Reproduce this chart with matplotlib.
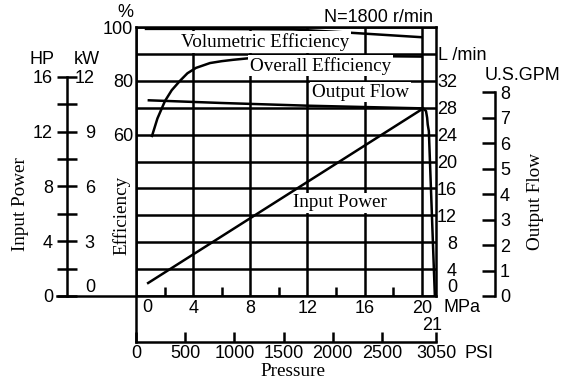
import matplotlib
matplotlib.use("Agg")
import matplotlib.pyplot as plt

plt.rcParams["font.family"] = "Liberation Sans"
plt.rcParams["font.size"] = 13
SERIF = "Liberation Serif"
SERIF_SIZE = 13.8
LW = 1.8

# curves, pressure in MPa
vol_pressure = [0.7, 4, 8, 11, 14, 17, 20]
vol_eff = [99.3, 99.3, 99.2, 99.1, 98.2, 97.2, 96.2]

overall_pressure = [1.12, 1.5, 2.03, 2.5, 3.08, 3.6, 4.2, 5.18, 6.0, 6.79, 8.12, 10, 12, 16, 20]
overall_eff = [59.5, 66, 72.5, 76.5, 80, 82.8, 84.8, 86.6, 87.3, 87.8, 88.5, 89, 89.2, 89.2, 89]

flow_pressure = [0.9, 6, 12, 18, 20.1, 20.3, 20.38, 20.42, 20.5, 20.92]
flow_lpm = [29.1, 28.7, 28.3, 28.0, 27.9, 27.5, 26.5, 25.5, 24.5, 0]

power_pressure = [0.85, 20.1]
power_hp = [0.95, 13.7]

# axes ticks
mpa_ticks = [0, 4, 8, 12, 16, 20]
mpa_minor = [2, 6, 10, 14, 18]
psi_ticks = [0, 500, 1000, 1500, 2000, 2500, 3050]
eff_ticks = [0, 10, 20, 30, 40, 50, 60, 70, 80, 90, 100]
eff_labeled = [60, 80, 100]
lpm_ticks = [4, 8, 12, 16, 20, 24, 28, 32]
hp_ticks = [0, 4, 8, 12, 16]
hp_minor = [2, 6, 10, 14]
kw_ticks = [3, 6, 9, 12]
gpm_ticks = [0, 1, 2, 3, 4, 5, 6, 7, 8]

W, H = 570, 385
fig = plt.figure(figsize=(W / 100, H / 100), dpi=100)


def fx(px):
    return px / W


def fy(py):
    return 1 - py / H


def label(x, y, s, ha="center", **kw):
    fig.text(fx(x), fy(y), s, ha=ha, va="center", **kw)


# main box: pressure vs efficiency
ax = fig.add_axes([fx(136), fy(296), 300 / W, 269 / H])
ax.set_xlim(0, 21)
ax.set_ylim(0, 100)
for sp in ax.spines.values():
    sp.set_linewidth(LW)
ax.spines["left"].set_bounds(-17.1, 100)
ax.spines["bottom"].set_bounds(-5.53, 21)

ax.set_xticks(mpa_ticks, ["" if v == 0 else str(v) for v in mpa_ticks])
ax.set_xticks(mpa_minor, minor=True)
ax.set_yticks(eff_ticks, [str(v) if v in eff_labeled else "" for v in eff_ticks])
ax.tick_params(which="major", length=0)
ax.tick_params(axis="x", which="major", pad=3.2)
ax.tick_params(axis="y", pad=2.2)
ax.tick_params(axis="x", which="minor", direction="in", length=6.5, width=LW)
ax.grid(True, which="major", color="black", linewidth=LW)
ax.set_ylabel("Efficiency", family=SERIF, fontsize=SERIF_SIZE)
ax.yaxis.set_label_coords(-0.02, 0.30)
ax.set_xlabel("Pressure", family=SERIF, fontsize=SERIF_SIZE)
ax.xaxis.set_label_coords(0.523, -0.25)

ax.plot(vol_pressure, vol_eff, color="black", lw=LW)
ax.plot(overall_pressure, overall_eff, color="black", lw=LW)

box = dict(facecolor="white", edgecolor="none", pad=1.2)
txt = dict(family=SERIF, fontsize=SERIF_SIZE, ha="center", va="center", bbox=box)
ax.text(9.03, 94.4, "Volumetric Efficiency", **txt)
ax.text(12.9, 85.6, "Overall Efficiency", **txt)
ax.text(15.7, 75.8, "Output Flow", **txt)
ax.text(14.3, 34.6, "Input Power", **txt)

# PSI scale under the box
psi = ax.secondary_xaxis(-0.171, functions=(lambda p: p * 3050 / 21, lambda s: s * 21 / 3050))
psi.set_xticks(psi_ticks)
psi.tick_params(direction="in", length=7.2, width=LW, pad=2.5)
psi.spines["bottom"].set_linewidth(LW)

# output flow, L/min on the right edge of the box
ax_flow = ax.twinx()
ax_flow.set_ylim(0, 40)
for sp in ax_flow.spines.values():
    sp.set_visible(False)
ax_flow.set_yticks(lpm_ticks)
ax_flow.tick_params(length=0, pad=15.1)
for t in ax_flow.get_yticklabels():
    t.set_horizontalalignment("right")
ax_flow.plot(flow_pressure, flow_lpm, color="black", lw=LW)

gpm = ax_flow.secondary_yaxis(1.197, functions=(lambda q: q / 3.7854, lambda g: g * 3.7854))
gpm.spines["right"].set_bounds(0, 8)
gpm.spines["right"].set_linewidth(LW)
gpm.set_yticks(gpm_ticks)
gpm.tick_params(direction="in", length=9.4, width=LW, pad=3.6)
gpm.set_ylabel("Output Flow", family=SERIF, fontsize=SERIF_SIZE)
gpm.yaxis.set_label_coords(1.303, 0.353, transform=ax.transAxes)

# input power, HP / kW scale on the far left
ax_hp = ax.twinx()
ax_hp.set_ylim(0, 19.65)
for name in ["right", "top", "bottom"]:
    ax_hp.spines[name].set_visible(False)
ax_hp.spines["left"].set_visible(True)
ax_hp.spines["left"].set_position(("axes", -0.23))
ax_hp.spines["left"].set_bounds(0, 16)
ax_hp.spines["left"].set_linewidth(LW)
ax_hp.yaxis.set_ticks_position("left")
ax_hp.yaxis.set_label_position("left")
ax_hp.set_yticks(hp_ticks)
ax_hp.set_yticks(hp_minor, minor=True)
ax_hp.tick_params(axis="y", which="both", direction="inout", length=14.4, width=LW, pad=2.9)
ax_hp.set_ylabel("Input Power", family=SERIF, fontsize=SERIF_SIZE)
ax_hp.yaxis.set_label_coords(-0.357, 0.342)
ax_hp.plot(power_pressure, power_hp, color="black", lw=LW)

kw = ax_hp.secondary_yaxis(-0.23, functions=(lambda h: h * 0.75, lambda k: k / 0.75))
kw.set_alignment("right")
kw.spines["right"].set_visible(False)
kw.set_yticks(kw_ticks)
kw.tick_params(length=0, pad=20)
for t in kw.get_yticklabels():
    t.set_horizontalalignment("right")

# loose labels
label(125, 12.5, "%")
label(433, 17, "N=1800 r/min", ha="right")
label(42, 60, "HP")
label(87, 60, "kW")
label(522, 75, "U.S.GPM")
label(438, 55, "L /min", ha="left")
label(457, 287, "0", ha="right")
label(95, 287, "0", ha="right")
label(147, 308, "0")
label(462, 308, "MPa")
label(432, 325, "21")
label(465, 353, "PSI", ha="left")

fig.savefig("out.png", dpi=100)
